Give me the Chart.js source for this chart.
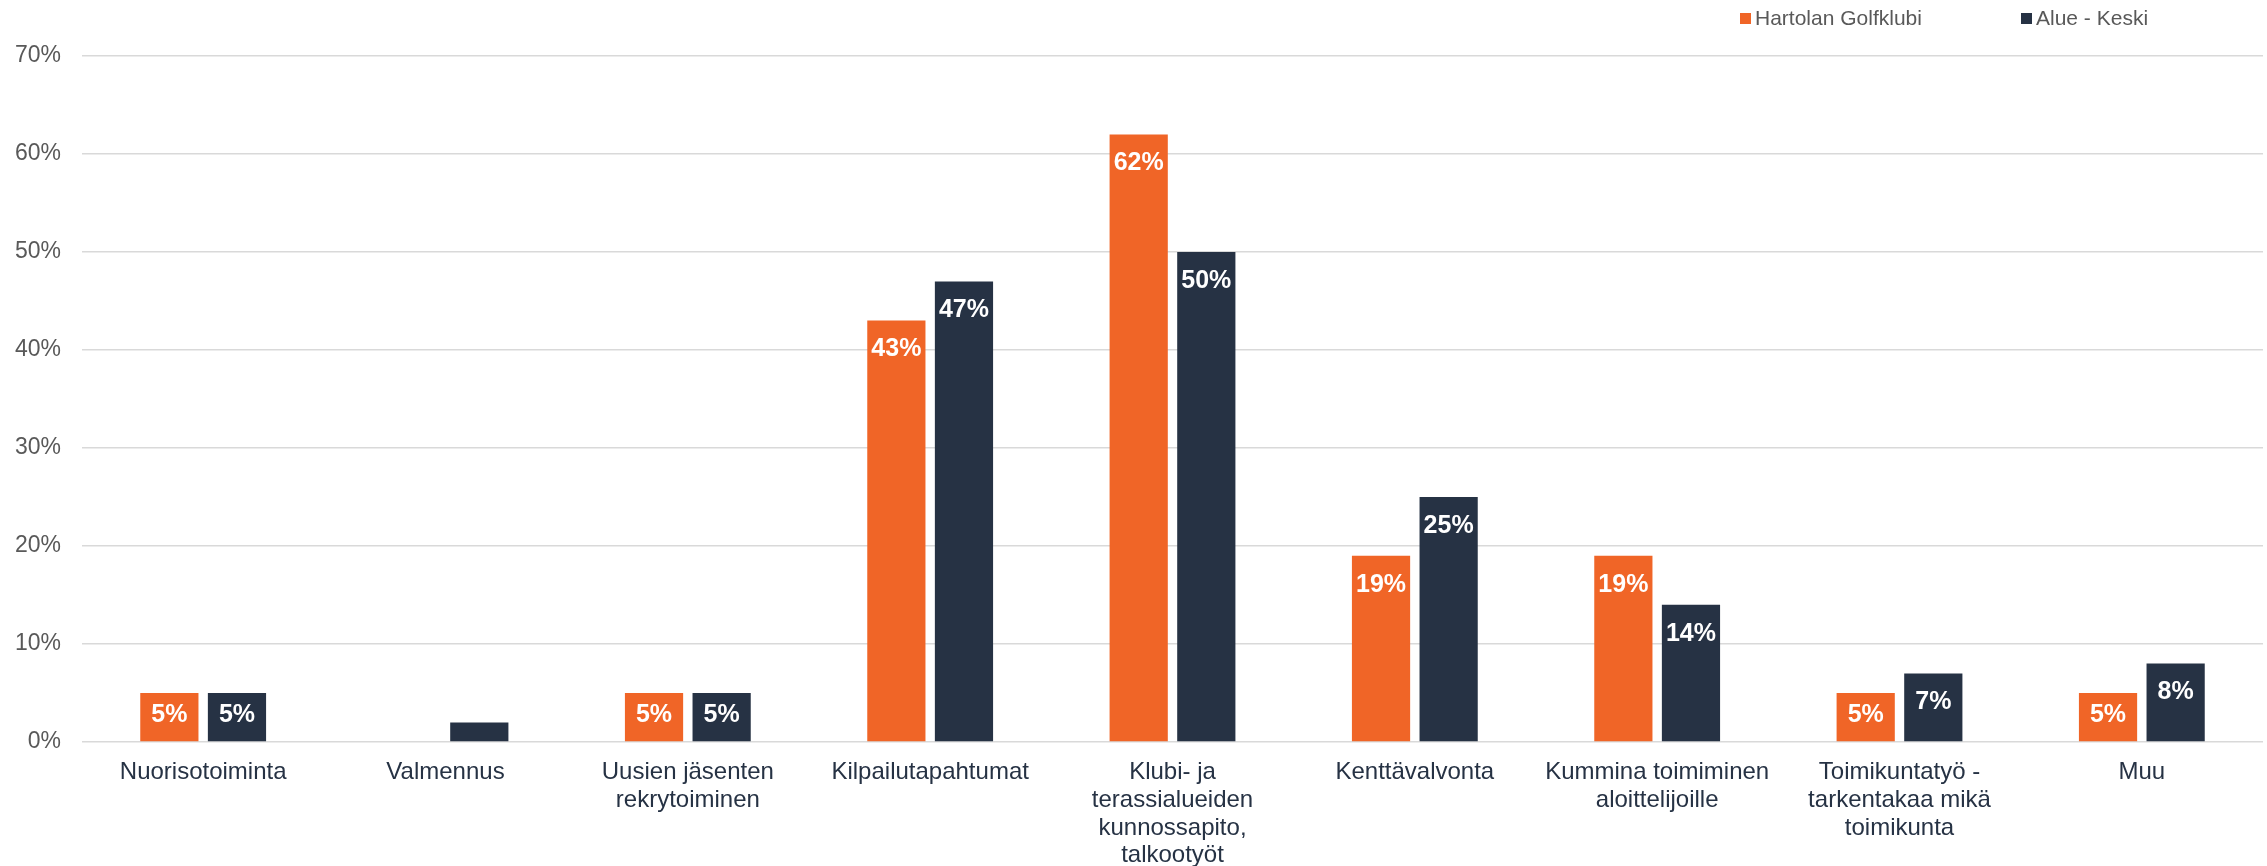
<!DOCTYPE html>
<html lang="fi">
<head>
<meta charset="utf-8">
<title>Vapaaehtoistyö</title>
<script src="https://cdn.jsdelivr.net/npm/chart.js@4.4.1/dist/chart.umd.min.js"></script>
<style>
  html, body { margin: 0; padding: 0; background: #ffffff; }
  #wrap { width: 2267px; height: 866px; position: relative; }
</style>
</head>
<body>
<div id="wrap"><canvas id="chart"></canvas></div>
<script>
// Categories (multi-line where the axis wraps them)
const categories = [
    'Nuorisotoiminta',
    'Valmennus',
    ['Uusien jäsenten', 'rekrytoiminen'],
    'Kilpailutapahtumat',
    ['Klubi- ja', 'terassialueiden', 'kunnossapito,', 'talkootyöt'],
    'Kenttävalvonta',
    ['Kummina toimiminen', 'aloittelijoille'],
    ['Toimikuntatyö -', 'tarkentakaa mikä', 'toimikunta'],
    'Muu'
];

const seriesNames = ['Hartolan Golfklubi', 'Alue - Keski'];

// Values in percent
const hartolaValues = [5, 0, 5, 43, 62, 19, 19, 5, 5];
const alueValues = [5, 2, 5, 47, 50, 25, 14, 7, 8];

const yTicks = [0, 10, 20, 30, 40, 50, 60, 70];

const ORANGE = '#f06527';
const NAVY = '#263244';
const GREY_TEXT = '#595959';
const GRID = '#d9d9d9';
const FONT = "'Liberation Sans', Arial, sans-serif";

/* White value labels inside the top of each bar */
const valueLabels = {
    id: 'valueLabels',
    afterDatasetsDraw(chart) {
        const ctx = chart.ctx;
        const base = chart.scales.y.getPixelForValue(0);
        ctx.save();
        ctx.font = `bold 25px ${FONT}`;
        ctx.fillStyle = '#ffffff';
        ctx.textAlign = 'center';
        ctx.textBaseline = 'middle';
        chart.data.datasets.forEach((ds, di) => {
            const meta = chart.getDatasetMeta(di);
            meta.data.forEach((bar, i) => {
                const v = ds.data[i];
                if (!v) return;
                const y = Math.min(bar.y + 29, base - 27);
                ctx.fillText(v + '%', bar.x, y);
            });
        });
        ctx.restore();
    }
};

/* Legend in the top-right corner */
const cornerLegend = {
    id: 'cornerLegend',
    afterDraw(chart) {
        const ctx = chart.ctx;
        const starts = [1740, 2021];
        ctx.save();
        ctx.font = `21px ${FONT}`;
        ctx.textBaseline = 'middle';
        ctx.textAlign = 'left';
        chart.data.datasets.forEach((ds, i) => {
            const x = starts[i];
            ctx.fillStyle = ds.backgroundColor;
            ctx.fillRect(x, 13, 11, 11);
            ctx.fillStyle = GREY_TEXT;
            ctx.fillText(ds.label, x + 15, 19);
        });
        ctx.restore();
    }
};

new Chart(document.getElementById('chart'), {
    type: 'bar',
    data: {
        labels: categories,
        datasets: [
            { label: seriesNames[0], data: hartolaValues, backgroundColor: ORANGE },
            { label: seriesNames[1], data: alueValues, backgroundColor: NAVY }
        ]
    },
    options: {
        responsive: true,
        maintainAspectRatio: false,
        animation: false,
        devicePixelRatio: 1,
        layout: { padding: { left: 14, right: 4, top: 56, bottom: 0 } },
        datasets: {
            bar: { barPercentage: 0.861, categoryPercentage: 0.558 }
        },
        plugins: {
            legend: { display: false },
            tooltip: { enabled: false }
        },
        scales: {
            y: {
                min: 0,
                max: 70,
                afterBuildTicks(axis) {
                    axis.ticks = yTicks.map(v => ({ value: v }));
                },
                afterFit(axis) {
                    axis.width = 68;
                },
                border: { display: false },
                grid: { color: GRID, lineWidth: 1.5, drawTicks: false },
                ticks: {
                    padding: 21,
                    color: GREY_TEXT,
                    font: { family: FONT, size: 23 },
                    callback: v => v + '%'
                }
            },
            x: {
                afterFit(axis) {
                    axis.paddingLeft = 0;
                    axis.paddingRight = 0;
                    axis.height = 124;
                },
                border: { display: false },
                grid: { display: false, drawTicks: false },
                ticks: {
                    padding: 17,
                    color: NAVY,
                    maxRotation: 0,
                    autoSkip: false,
                    font: { family: FONT, size: 24, lineHeight: 1.15 }
                }
            }
        }
    },
    plugins: [valueLabels, cornerLegend]
});
</script>
</body>
</html>
